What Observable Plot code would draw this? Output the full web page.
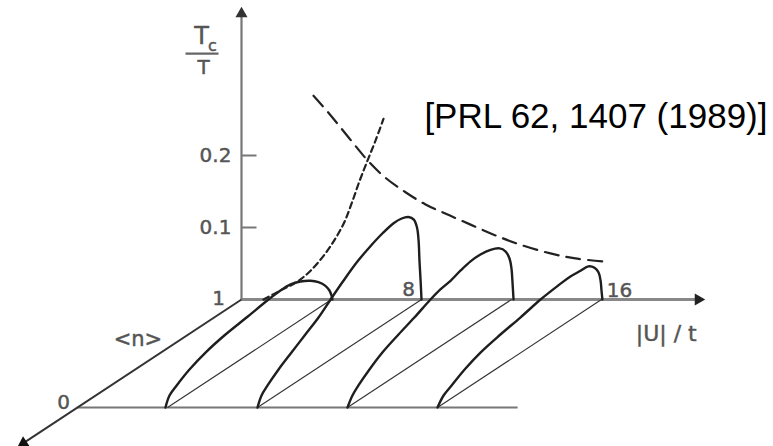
<!DOCTYPE html>
<html><head><meta charset="utf-8">
<script src="https://cdn.jsdelivr.net/npm/d3@7"></script>
<script src="https://cdn.jsdelivr.net/npm/@observablehq/plot@0.6"></script>
<style>
body{margin:0;background:#fff}
#chart{position:relative;width:773px;height:446px;overflow:hidden}
</style>
</head><body><div id="chart"></div>
<script>
// ---------- data ----------
const citation = "[PRL 62, 1407 (1989)]";
const tcTicks = [0.1, 0.2];
const tcTickLabels = ["0.1", "0.2"];
const uTicks = [8, 16];
const uTickLabels = ["8", "16"];
const nTickLabels = ["1", "0"];          // back plane <n>=1, front edge <n>=0
const gridU = [4, 8, 12, 16];           // thin lines of constant |U|/t, from <n>=0 to <n>=1
const uAxisMax = 20.3, uFrontMax = 19.56, tcAxisMax = 0.397, nAxisMin = -0.33;

// thick boundaries in the (|U|/t, <n>) base plane
const baseA_u = [3.91, 3.28, 2.92, 2.41, 1.98, 1.65, 1.44, 1.20];
const baseA_n = [0, 0.111, 0.204, 0.352, 0.509, 0.676, 0.833, 1];
const baseB_u = [8.0, 7.37, 6.96, 6.37, 5.80, 5.20, 4.64, 3.96];
const baseB_n = [0, 0.111, 0.204, 0.352, 0.509, 0.676, 0.833, 1];
const baseC_u = [12.0, 11.41, 11.0, 10.41, 9.84, 9.34, 8.90, 8.4];
const baseC_n = [0, 0.111, 0.204, 0.352, 0.509, 0.676, 0.833, 1];
const baseD_u = [16.0, 15.46, 15.14, 14.64, 14.2, 13.87, 13.61, 13.29];
const baseD_n = [0, 0.111, 0.204, 0.352, 0.509, 0.676, 0.833, 1];

// Tc/T domes in the back plane (<n> = 1)
const dome1_u  = [1.73, 2.18, 2.62, 3.07, 3.42, 3.73, 3.91, 4.0, 4.04];
const dome1_tc = [0.0125, 0.021, 0.025, 0.026, 0.024, 0.019, 0.0125, 0.0056, 0];
const dome2_u  = [4.53, 5.16, 5.73, 6.27, 6.76, 7.12, 7.42, 7.66, 7.80, 7.87, 7.91, 7.96, 8.0];
const dome2_tc = [0.026, 0.053, 0.074, 0.092, 0.106, 0.1125, 0.1145, 0.111, 0.1, 0.082, 0.054, 0.026, 0];
const dome3_u  = [8.84, 9.29, 9.73, 10.18, 10.62, 11.07, 11.47, 11.73, 11.91, 12.0, 12.04, 12.09];
const dome3_tc = [0.014, 0.026, 0.040, 0.053, 0.0625, 0.069, 0.071, 0.067, 0.057, 0.043, 0.026, 0];
const dome4_u  = [13.73, 14.18, 14.62, 15.07, 15.42, 15.69, 15.87, 15.96, 16.0, 16.04];
const dome4_tc = [0.011, 0.022, 0.032, 0.040, 0.046, 0.044, 0.0375, 0.026, 0.0125, 0];

// dashed curves in the back plane
const rise_u  = [0.98, 1.73, 2.49, 3.07, 3.73, 4.18, 4.58, 4.89, 5.24, 5.6, 5.96, 6.31];
const rise_tc = [0, 0.0125, 0.025, 0.040, 0.064, 0.085, 0.108, 0.133, 0.164, 0.193, 0.221, 0.251];
const fall_u  = [3.2, 3.82, 4.4, 5.02, 5.64, 6.4, 7.29, 8.18, 9.16, 10.18, 11.29, 12.4, 13.73, 14.84, 16.04];
const fall_tc = [0.283, 0.261, 0.239, 0.215, 0.192, 0.169, 0.149, 0.132, 0.118, 0.104, 0.089, 0.076, 0.064, 0.057, 0.053];

// ---------- oblique projection of (|U|/t, <n>, Tc/T) ----------
const PX_PER_U = 22.5, PX_PER_TC = 720;
const DX = -164 / PX_PER_U, DY = -108 / PX_PER_TC;   // shift of the <n>=0 edge
const px = d => d.u + DX * (1 - d.n);
const py = d => d.tc + DY * (1 - d.n);

const P = (u, n, tc, s) => ({u, n, tc, s});
const thick = [];
const addBase = (s, us, ns) => us.forEach((u, i) => thick.push(P(u, ns[i], 0, s)));
const addDome = (s, us, ts) => us.forEach((u, i) => thick.push(P(u, 1, ts[i], s)));
addBase("A", baseA_u, baseA_n); addDome("A", dome1_u, dome1_tc);
addBase("B", baseB_u, baseB_n); addDome("B", dome2_u, dome2_tc);
addBase("C", baseC_u, baseC_n); addDome("C", dome3_u, dome3_tc);
addBase("D", baseD_u, baseD_n); addDome("D", dome4_u, dome4_tc);
const rise = rise_u.map((u, i) => P(u, 1, rise_tc[i]));
const fall = fall_u.map((u, i) => P(u, 1, fall_tc[i]));
const grid = gridU.map(u => ({a: P(u, 0, 0), b: P(u, 1, 0)}));

const O = P(0, 1, 0);
const uAxisEnd = P(uAxisMax, 1, 0), tcAxisEnd = P(0, 1, tcAxisMax), nAxisEnd = P(0, nAxisMin, 0);
const front0 = P(0, 0, 0), frontEnd = P(uFrontMax, 0, 0);

const hand = {fontFamily: "DejaVu Sans, sans-serif", fill: "#555", stroke: "#666", strokeWidth: 0.5, fontSize: 20};
const W = 773, H = 446;
const seg = {x1: d => px(d.a), y1: d => py(d.a), x2: d => px(d.b), y2: d => py(d.b)};

const chart = Plot.plot({
  width: W, height: H,
  marginTop: 0, marginRight: 0, marginBottom: 0, marginLeft: 0,
  x: {domain: [-241 / PX_PER_U, (W - 241) / PX_PER_U], axis: null},
  y: {domain: [-(H - 299) / PX_PER_TC, 299 / PX_PER_TC], axis: null},
  style: {background: "#fff", overflow: "visible"},
  marks: [
    // front edge and axes
    Plot.link([{a: front0, b: frontEnd}], {...seg, stroke: "#777", strokeWidth: 2}),
    Plot.link([{a: O, b: uAxisEnd}], {...seg, stroke: "#888", strokeWidth: 3}),
    Plot.link([{a: O, b: tcAxisEnd}], {...seg, stroke: "#777", strokeWidth: 2.2}),
    Plot.link([{a: O, b: nAxisEnd}], {...seg, stroke: "#333", strokeWidth: 2}),
    Plot.dot([uAxisEnd], {x: px, y: py, symbol: "triangle", r: 4.5, rotate: 90, fill: "#222", stroke: "none"}),
    Plot.dot([tcAxisEnd], {x: px, y: py, symbol: "triangle", r: 4.5, rotate: 0, fill: "#333", stroke: "none"}),
    Plot.dot([nAxisEnd], {x: px, y: py, symbol: "triangle", r: 4.5, rotate: 237, fill: "#111", stroke: "none"}),
    // Tc/T ticks
    Plot.link(tcTicks, {x1: 0, x2: 15 / PX_PER_U, y1: d => d, y2: d => d, stroke: "#777", strokeWidth: 2}),
    // thin lines of constant |U|/t
    Plot.link(grid, {...seg, stroke: "#333", strokeWidth: 1.1}),
    // thick boundaries + domes
    Plot.line(thick, {x: px, y: py, z: "s", curve: "catmull-rom", stroke: "#1e1e1e", strokeWidth: 2.4, strokeLinejoin: "round", strokeLinecap: "round"}),
    // dashed curves
    Plot.line(rise, {x: px, y: py, curve: "catmull-rom", stroke: "#222", strokeWidth: 2.2, strokeDasharray: "6,4"}),
    Plot.line(fall, {x: px, y: py, curve: "catmull-rom", stroke: "#222", strokeWidth: 2.2, strokeDasharray: "14,8"}),
    // labels
    Plot.text(tcTicks, {x: 0, y: d => d, text: (d, i) => tcTickLabels[i], dx: -26, ...hand}),
    Plot.text([uTicks[0]], {x: d => d, y: 0, text: () => uTickLabels[0], dx: -13, dy: -10, ...hand}),
    Plot.text([uTicks[1]], {x: d => d, y: 0, text: () => uTickLabels[1], dx: 18, dy: -9, ...hand}),
    Plot.text([O], {x: px, y: py, text: () => nTickLabels[0], dx: -23, dy: -1, ...hand}),
    Plot.text([front0], {x: px, y: py, text: () => nTickLabels[1], dx: -14, dy: -5, ...hand}),
    Plot.text([P(0, 0.6, 0)], {x: px, y: py, text: () => "<n>", dx: -38, dy: -3, ...hand, fontSize: 21}),
    Plot.text([uAxisEnd], {x: px, y: py, text: () => "|U| / t", dx: -32, dy: 34, ...hand, fontSize: 22}),
    Plot.text([tcAxisEnd], {x: px, y: py, text: () => "T", dx: -40, dy: 23, ...hand, fontSize: 24}),
    Plot.text([tcAxisEnd], {x: px, y: py, text: () => "c", dx: -29, dy: 32, ...hand, fontSize: 16}),
    Plot.link([tcAxisEnd], {x1: -56 / PX_PER_U, x2: -23 / PX_PER_U, y1: d => d.tc, y2: d => d.tc, dy: 40, stroke: "#666", strokeWidth: 2.2}),
    Plot.text([tcAxisEnd], {x: px, y: py, text: () => "T", dx: -38, dy: 54, ...hand, fontSize: 20}),
    // citation
    Plot.text([citation], {frameAnchor: "top-right", textAnchor: "end", lineAnchor: "middle", dx: -6, dy: 116,
      fontSize: 35, fontFamily: "Liberation Sans, Arial, Helvetica, sans-serif", fill: "#000"})
  ]
});
document.getElementById("chart").appendChild(chart);
</script>
</body></html>
